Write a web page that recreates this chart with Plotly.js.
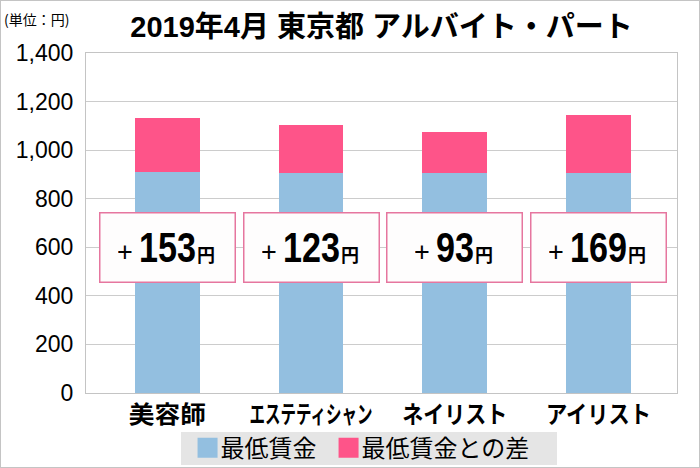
<!DOCTYPE html>
<html>
<head>
<meta charset="utf-8">
<script src="https://cdn.plot.ly/plotly-3.0.1.min.js"></script>
<style>
  html, body { margin: 0; padding: 0; background: #ffffff; }
  #wrap { width: 698px; height: 466px; border: 1px solid #c4c4c4; }
</style>
</head>
<body>
<div id="wrap"><div id="chart"></div></div>
<script>
// ---- data ----
const categories = ['美容師', 'エステティシャン', 'ネイリスト', 'アイリスト'];
const minWage = [912, 907, 904, 904];          // 最低賃金 (blue segment)
const gapBar = [219, 197, 170, 241];           // 最低賃金との差 (pink segment, as drawn)
const gapLabel = [153, 123, 93, 169];          // values printed in the boxes
const seriesNames = ['最低賃金', '最低賃金との差'];
const chartTitle = '2019年4月 東京都 アルバイト・パート';
const unitNote = '(単位：円)';
const yTicks = [0, 200, 400, 600, 800, 1000, 1200, 1400];

// ---- style ----
const BLUE = '#93bfe0';
const PINK = '#fe5489';
const LATIN = "'Liberation Sans', 'Noto Sans CJK JP', sans-serif";
const CJK = "'Noto Sans CJK JP', 'Liberation Sans', sans-serif";
const tickLabelWidths = { '美容師': 77, 'エステティシャン': 123, 'ネイリスト': 105, 'アイリスト': 105 };
const DIGIT_W = 19;      // px per digit of the narrow box numbers
const BOX_Y = 600;       // vertical centre of the callout boxes (axis units)

const traces = [
  { type: 'bar', name: seriesNames[0], x: categories, y: minWage,
    marker: { color: BLUE }, width: 0.45, hoverinfo: 'skip' },
  { type: 'bar', name: seriesNames[1], x: categories, y: gapBar,
    marker: { color: PINK }, width: 0.45, hoverinfo: 'skip' }
];

const annotations = [];
categories.forEach((c, i) => {
  const digits = String(gapLabel[i]);
  const D = DIGIT_W * digits.length;
  const W = 10 + 9 + D + 2 + 17;
  const left = -W / 2;
  const base = { xref: 'x', yref: 'y', x: c, y: BOX_Y, showarrow: false,
                 xanchor: 'center', yanchor: 'middle', borderpad: 0 };
  // box
  annotations.push(Object.assign({}, base, {
    text: ' ', width: 134, height: 68,
    bgcolor: '#fefdfd', bordercolor: '#e6769f', borderwidth: 1.5,
    font: { family: LATIN, size: 12, color: '#000000' }
  }));
  // plus sign
  annotations.push(Object.assign({}, base, {
    text: '+', xshift: left + 5, yshift: -5, width: 14,
    font: { family: LATIN, size: 27, color: '#000000' }
  }));
  // number
  annotations.push(Object.assign({}, base, {
    text: '<b>' + digits + '</b>', xshift: left + 19 + D / 2, yshift: 0, width: D,
    font: { family: LATIN, size: 43, color: '#000000' }
  }));
  // yen
  annotations.push(Object.assign({}, base, {
    text: '<b>円</b>', xshift: left + 19 + D + 2 + 8.5, yshift: -9, width: 18,
    font: { family: LATIN, size: 18, color: '#000000' }
  }));
});

annotations.push({
  xref: 'paper', yref: 'paper', x: -0.142, y: 1.1, xanchor: 'left', yanchor: 'middle',
  text: unitNote, showarrow: false,
  font: { family: CJK, size: 14, color: '#000000' }
});

const layout = {
  width: 698, height: 466,
  margin: { l: 85, r: 22, t: 52, b: 74, pad: 0 },
  paper_bgcolor: '#ffffff', plot_bgcolor: '#ffffff',
  barmode: 'stack',
  showlegend: true,
  title: {
    text: '<b>' + chartTitle + '</b>',
    font: { family: LATIN, size: 29, color: '#000000' },
    xref: 'paper', x: 0.5, xanchor: 'center',
    yref: 'container', y: 0.944, yanchor: 'middle'
  },
  xaxis: {
    type: 'category', tickangle: 0, range: [-0.566, 3.547],
    tickfont: { family: CJK, size: 24, color: '#000000', weight: 'bold' },
    showline: true, linecolor: '#c4c4c4', linewidth: 1, mirror: true,
    ticks: '', showgrid: false, fixedrange: true, automargin: false
  },
  yaxis: {
    range: [0, 1400], tickvals: yTicks, tickformat: ',',
    tickfont: { family: LATIN, size: 23, color: '#000000' },
    showline: true, linecolor: '#c4c4c4', linewidth: 1, mirror: true,
    gridcolor: '#cccccc', gridwidth: 1, zeroline: false,
    ticks: '', ticklabelstandoff: 7, fixedrange: true, automargin: false
  },
  legend: {
    orientation: 'h', xref: 'paper', x: 0.4595, xanchor: 'center',
    yref: 'container', y: 0.089, yanchor: 'top',
    bgcolor: '#e5e5e5', borderwidth: 0,
    font: { family: CJK, size: 24, color: '#000000' },
    traceorder: 'normal', itemclick: false, itemdoubleclick: false
  },
  annotations: annotations
};

Plotly.newPlot('chart', traces, layout, { staticPlot: true, displayModeBar: false }).then(gd => {
  // condense category labels like the reference's narrow Japanese face
  gd.querySelectorAll('.xtick text').forEach(t => {
    const w = tickLabelWidths[t.textContent];
    if (w) { t.setAttribute('textLength', w); t.setAttribute('lengthAdjust', 'spacingAndGlyphs'); }
  });
  // narrow bold digits in the boxes
  gd.querySelectorAll('text.annotation-text').forEach(t => {
    const s = t.textContent.trim();
    if (/^\d+$/.test(s)) {
      t.setAttribute('textLength', DIGIT_W * s.length);
      t.setAttribute('lengthAdjust', 'spacingAndGlyphs');
    }
  });
  // larger legend swatches, close to their text
  gd.querySelectorAll('.legend .legendpoints path').forEach(p => {
    p.setAttribute('d', 'M10,10H-10V-10H10Z');
    p.setAttribute('transform', 'translate(27,0)');
  });
  // slimmer, slightly wider legend background, as in the reference
  const bg = gd.querySelector('.legend rect.bg');
  if (bg) {
    const h = parseFloat(bg.getAttribute('height'));
    const w = parseFloat(bg.getAttribute('width'));
    const nh = 33;
    bg.setAttribute('y', ((h - nh) / 2).toFixed(1));
    bg.setAttribute('height', nh);
    bg.setAttribute('width', w + 22);
  }
});
</script>
</body>
</html>
